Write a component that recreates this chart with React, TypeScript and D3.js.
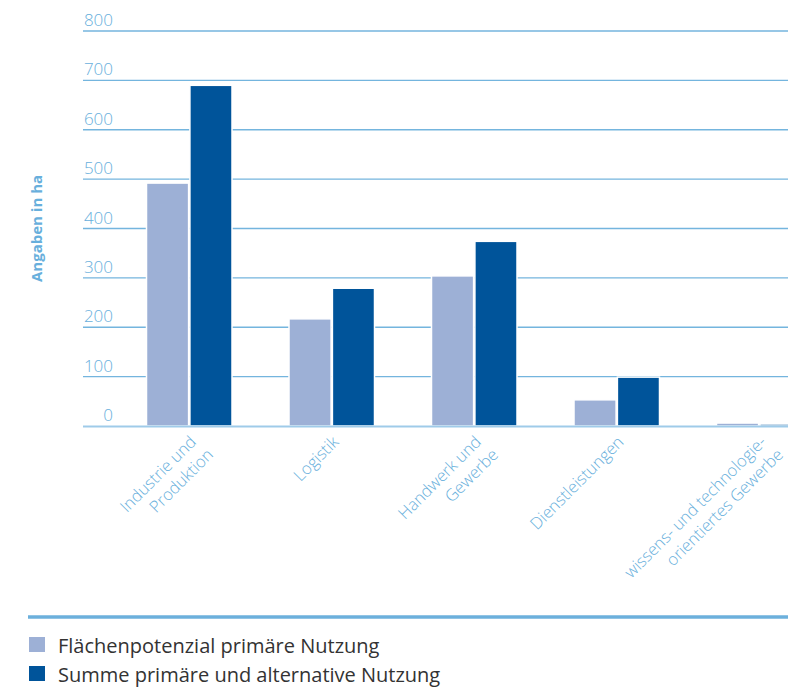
import React, { useEffect, useRef } from 'react';
import * as d3 from 'd3';

const categories = [
  ['Industrie und', 'Produktion'],
  ['Logistik'],
  ['Handwerk und', 'Gewerbe'],
  ['Dienstleistungen'],
  ['wissens- und technologie-', 'orientiertes Gewerbe'],
];
const seriesNames = ['Flächenpotenzial primäre Nutzung', 'Summe primäre und alternative Nutzung'];
const primaer = [492, 217, 304, 53, 6];
const summe = [690, 279, 374, 99, 4];
const yTicks = [0, 100, 200, 300, 400, 500, 600, 700, 800];
const colors = ['#9db0d6', '#00549a'];

const W = 788;
const H = 693;

export default function App() {
  const svgRef = useRef<SVGSVGElement>(null);

  useEffect(() => {
    document.body.style.margin = '0';
    if (!svgRef.current) return;
    const svg = d3.select(svgRef.current);
    svg.selectAll('*').remove();

    const tickColor = '#68afdc';
    const font = '"Open Sans", sans-serif';
    const keys = categories.map((c) => c.join(' '));
    const values = [primaer, summe];

    const y = d3.scaleLinear().domain([0, 800]).range([426, 31]);
    const x = d3.scaleBand<string>()
      .domain(keys)
      .range([118, 830.5])
      .paddingInner(0.4)
      .paddingOuter(0.2);
    const xs = d3.scaleBand<number>()
      .domain([0, 1])
      .range([0, x.bandwidth()])
      .paddingInner(0.03);

    // gridlines
    svg.append('g')
      .selectAll('line')
      .data(yTicks.filter((t) => t > 0))
      .join('line')
      .attr('x1', 83)
      .attr('x2', W)
      .attr('y1', (d) => y(d))
      .attr('y2', (d) => y(d))
      .attr('stroke', '#74b5de')
      .attr('stroke-width', 1.3);

    // tick labels
    svg.append('g')
      .selectAll('text')
      .data(yTicks)
      .join('text')
      .attr('x', 113)
      .attr('y', (d) => y(d) - 5)
      .attr('text-anchor', 'end')
      .attr('font-family', font)
      .attr('font-weight', 300)
      .attr('font-size', 17)
      .attr('fill', tickColor)
      .text((d) => d);

    // bars
    const groups = svg.append('g')
      .selectAll('g')
      .data(keys)
      .join('g')
      .attr('transform', (d) => `translate(${x(d)},0)`);
    groups.selectAll('rect')
      .data((_, i) => values.map((v, s) => ({ s, v: v[i] })))
      .join('rect')
      .attr('x', (d) => xs(d.s)!)
      .attr('width', xs.bandwidth())
      .attr('y', (d) => y(d.v))
      .attr('height', (d) => y(0) - y(d.v))
      .attr('fill', (d) => colors[d.s])
      .attr('stroke', '#fff')
      .attr('stroke-width', 1.5);

    // zero line
    svg.append('line')
      .attr('x1', 83)
      .attr('x2', W)
      .attr('y1', y(0) + 0.5)
      .attr('y2', y(0) + 0.5)
      .attr('stroke', '#9fcbe9')
      .attr('stroke-width', 2);

    // y title
    svg.append('text')
      .attr('transform', `translate(42,${(y(0) + y(800)) / 2}) rotate(-90)`)
      .attr('text-anchor', 'middle')
      .attr('font-family', font)
      .attr('font-weight', 700)
      .attr('font-size', 15)
      .attr('fill', tickColor)
      .text('Angaben in ha');

    // x labels
    const xl = svg.append('g')
      .selectAll('text')
      .data(categories)
      .join('text')
      .attr('transform', (d, i) => `translate(${x(keys[i])! + x.bandwidth() / 2 + 8},443) rotate(-45)`)
      .attr('text-anchor', 'end')
      .attr('font-family', font)
      .attr('font-weight', 300)
      .attr('font-size', 16.5)
      .attr('fill', tickColor);
    xl.selectAll('tspan')
      .data((d) => d)
      .join('tspan')
      .attr('x', (_, i) => (i === 0 ? 0 : 3))
      .attr('dy', (_, i) => (i === 0 ? 0 : 21))
      .text((d) => d);

    // bottom rule
    svg.append('line')
      .attr('x1', 28)
      .attr('x2', W)
      .attr('y1', 617)
      .attr('y2', 617)
      .attr('stroke', '#6cb0dc')
      .attr('stroke-width', 3.5);

    // legend
    const lg = svg.append('g')
      .selectAll('g')
      .data(seriesNames)
      .join('g')
      .attr('transform', (_, i) => `translate(29,${637 + i * 29})`);
    lg.append('rect')
      .attr('width', 16)
      .attr('height', 15)
      .attr('fill', (_, i) => colors[i]);
    lg.append('text')
      .attr('x', 29)
      .attr('y', 16)
      .attr('font-family', font)
      .attr('font-size', 20)
      .attr('fill', '#333')
      .text((d) => d);
  }, []);

  return <svg ref={svgRef} width={W} height={H} style={{ display: 'block', background: '#fff' }} />;
}
